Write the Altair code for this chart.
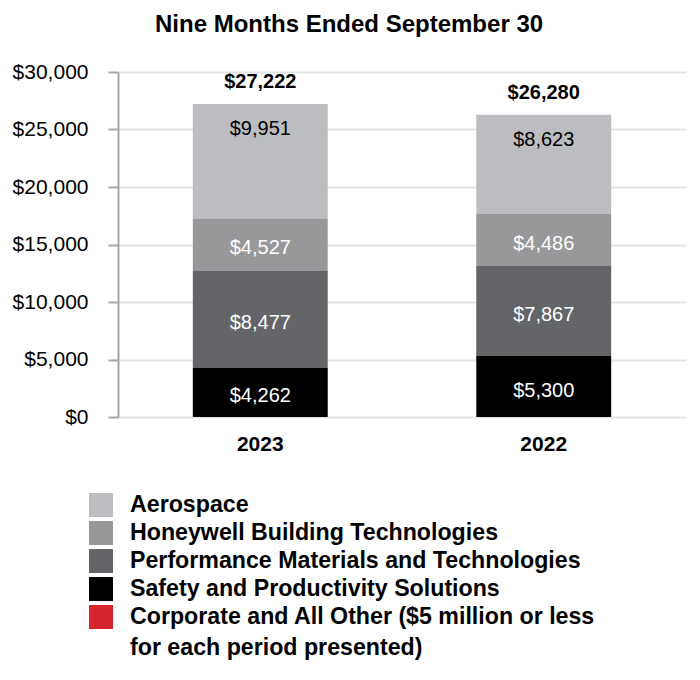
import altair as alt
import pandas as pd

years = ["2023", "2022"]
segments = [
    "Aerospace",
    "Honeywell Building Technologies",
    "Performance Materials and Technologies",
    "Safety and Productivity Solutions",
    "Corporate and All Other ($5 million or less for each period presented)",
]
legend_labels = [
    "Aerospace",
    "Honeywell Building Technologies",
    "Performance Materials and Technologies",
    "Safety and Productivity Solutions",
    "Corporate and All Other ($5 million or less\nfor each period presented)",
]
colors = ["#bcbdc1", "#98989a", "#636569", "#000000", "#d7252f"]
label_colors = ["#000000", "#ffffff", "#ffffff", "#ffffff", "#ffffff"]
stack_rank = [3, 2, 1, 0, 4]  # bottom: Safety ... top: Corporate

aerospace = [9951, 8623]
hbt = [4527, 4486]
pmt = [8477, 7867]
sps = [4262, 5300]
corporate = [5, 4]
totals = [27222, 26280]

series = [aerospace, hbt, pmt, sps, corporate]
rows = []
for si, seg in enumerate(segments):
    for yi, yr in enumerate(years):
        v = series[si][yi]
        rows.append({
            "year": yr,
            "segment": seg,
            "value": v,
            "rank": stack_rank[si],
            "label": "${:,}".format(v),
            "lcolor": label_colors[si],
        })
df = pd.DataFrame(rows)
tot_df = pd.DataFrame({"year": years, "total": totals,
                       "label": ["${:,}".format(t) for t in totals]})

FONT = "Liberation Sans"

color_scale = alt.Scale(domain=segments, range=colors)
x_enc = alt.X(
    "year:N", sort=years, title=None,
    scale=alt.Scale(paddingInner=0.524, paddingOuter=0.264),
    axis=alt.Axis(labelAngle=0, labelFontSize=21, labelFontWeight="bold",
                  labelColor="#000000", ticks=False, domain=False,
                  labelPadding=16, grid=False),
)
y_scale = alt.Scale(domain=[0, 30000])

base = alt.Chart(df)
bars = base.mark_bar().encode(
    x=x_enc,
    y=alt.Y("value:Q", stack="zero", scale=y_scale, title=None,
            axis=alt.Axis(values=[0, 5000, 10000, 15000, 20000, 25000, 30000],
                          format="$,d", labelFontSize=21, labelColor="#000000",
                          labelPadding=20, tickSize=10, tickColor="#a6a6a6",
                          tickWidth=2, domainColor="#a6a6a6", domainWidth=2,
                          gridColor="#e4e4e4", gridWidth=2)),
    color=alt.Color("segment:N", scale=color_scale, legend=None),
    order=alt.Order("rank:Q"),
)

stacked = base.transform_stack(
    stack="value", groupby=["year"], sort=[alt.SortField("rank")], as_=["y0", "y1"]
).transform_calculate(mid="(datum.y0 + datum.y1) / 2")

mid_labels = stacked.transform_filter(
    "datum.rank <= 2"
).mark_text(fontSize=20, font=FONT, dy=4).encode(
    x=alt.X("year:N", sort=years),
    y=alt.Y("mid:Q", scale=y_scale, title=None),
    text="label:N",
    color=alt.Color("lcolor:N", scale=None),
)

top_labels = stacked.transform_filter(
    "datum.rank == 3"
).mark_text(fontSize=20, font=FONT, dy=25).encode(
    x=alt.X("year:N", sort=years),
    y=alt.Y("y1:Q", scale=y_scale, title=None),
    text="label:N",
    color=alt.Color("lcolor:N", scale=None),
)

total_labels = alt.Chart(tot_df).mark_text(
    fontSize=20, font=FONT, fontWeight="bold", dy=-22, color="#000000"
).encode(
    x=alt.X("year:N", sort=years),
    y=alt.Y("total:Q", scale=y_scale, title=None),
    text="label:N",
)

main = alt.layer(bars, mid_labels, top_labels, total_labels).properties(
    width=568, height=345
)

leg_df = pd.DataFrame({"segment": segments, "label": legend_labels})
leg_base = alt.Chart(leg_df).encode(
    y=alt.Y("segment:N", sort=segments, axis=None,
            scale=alt.Scale(paddingInner=0, paddingOuter=0))
)
swatches = leg_base.mark_square(size=576, opacity=1).encode(
    x=alt.value(-17),
    color=alt.Color("segment:N", scale=color_scale, legend=None),
)
leg_text = leg_base.mark_text(
    align="left", baseline="top", dy=-11, fontSize=23.2, fontWeight="bold",
    font=FONT, lineBreak="\n", lineHeight=31, color="#000000"
).encode(x=alt.value(12), text="label:N")
legend_chart = alt.layer(swatches, leg_text).properties(width=568, height=140)

chart = alt.vconcat(main, legend_chart, spacing=37).properties(
    title=alt.TitleParams("Nine Months Ended September 30", fontSize=24,
                          fontWeight="bold", font=FONT, anchor="middle",
                          color="#000000", offset=24),
    padding={"left": 4, "top": 5, "right": 5, "bottom": 5},
).configure(font=FONT).configure_view(stroke=None).configure_axis(
    labelFont=FONT
)

chart.save("out.html", embed_options={"renderer": "svg", "actions": False})
